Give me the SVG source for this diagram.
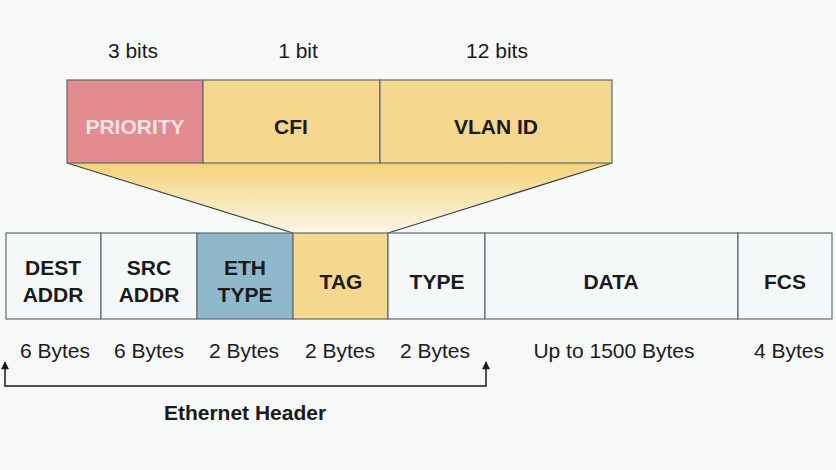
<svg xmlns="http://www.w3.org/2000/svg" width="836" height="470" viewBox="0 0 836 470">
<style>
.b{stroke:#5f6b6b;stroke-width:1.2}
.t{font-family:"Liberation Sans",Arial,sans-serif;font-weight:bold;font-size:21px;fill:#1a1a1a;text-anchor:middle}
.n{font-family:"Liberation Sans",Arial,sans-serif;font-size:21px;fill:#1a1a1a;text-anchor:middle}
</style>
<defs>
<linearGradient id="g" x1="0" y1="0" x2="0" y2="1">
<stop offset="0" stop-color="#f5d27a"/><stop offset="1" stop-color="#fbf6e6"/>
</linearGradient>
<marker id="a" viewBox="0 0 10 10" refX="9" refY="5" markerWidth="10" markerHeight="8" orient="auto-start-reverse" markerUnits="userSpaceOnUse"><path d="M0 0 L10 5 L0 10 Z" fill="#1a1a1a"/></marker>
</defs>
<rect width="836" height="470" fill="#f7f8f8"/>
<g id="funnel"><path d="M67 163 L612 163 L388 233 L293 233 Z" fill="url(#g)"/>
<path d="M67 163 L293 233 M612 163 L388 233" stroke="#3a4545" stroke-width="1.2" fill="none"/></g>
<g id="bits"><text class="n" x="133" y="58">3 bits</text><text class="n" x="298" y="58">1 bit</text><text class="n" x="497" y="58">12 bits</text></g>
<g id="priority"><rect class="b" x="67" y="80" width="136" height="83" fill="#e48b90"/><text class="t" x="135" y="134" style="fill:#f7e3e3">PRIORITY</text></g>
<g id="cfi"><rect class="b" x="203" y="80" width="177" height="83" fill="#f6d78e"/><text class="t" x="291" y="134">CFI</text></g>
<g id="vlan"><rect class="b" x="380" y="80" width="232" height="83" fill="#f6d78e"/><text class="t" x="496" y="134">VLAN ID</text></g>
<g id="dest"><rect class="b" x="6" y="233" width="95" height="86" fill="#f4f8f9"/><text class="t" x="53" y="275">DEST</text><text class="t" x="53" y="302">ADDR</text></g>
<g id="src"><rect class="b" x="101" y="233" width="96" height="86" fill="#f4f8f9"/><text class="t" x="149" y="275">SRC</text><text class="t" x="149" y="302">ADDR</text></g>
<g id="eth"><rect class="b" x="197" y="233" width="96" height="86" fill="#8fb8cb"/><text class="t" x="245" y="275">ETH</text><text class="t" x="245" y="302">TYPE</text></g>
<g id="tag"><rect class="b" x="293" y="233" width="95" height="86" fill="#f6d78e"/><text class="t" x="341" y="289">TAG</text></g>
<g id="type"><rect class="b" x="388" y="233" width="97" height="86" fill="#f4f8f9"/><text class="t" x="437" y="289">TYPE</text></g>
<g id="data"><rect class="b" x="485" y="233" width="253" height="86" fill="#f4f8f9"/><text class="t" x="611" y="289">DATA</text></g>
<g id="fcs"><rect class="b" x="738" y="233" width="94" height="86" fill="#f4f8f9"/><text class="t" x="785" y="289">FCS</text></g>
<g id="sizes"><text class="n" x="55" y="358">6 Bytes</text><text class="n" x="149" y="358">6 Bytes</text><text class="n" x="244" y="358">2 Bytes</text><text class="n" x="340" y="358">2 Bytes</text><text class="n" x="435" y="358">2 Bytes</text><text class="n" x="614" y="358">Up to 1500 Bytes</text><text class="n" x="789" y="358">4 Bytes</text></g>
<g id="connectors"><path d="M5 362 L5 386 L486 386 L486 362" fill="none" stroke="#1a1a1a" stroke-width="1.5" marker-start="url(#a)" marker-end="url(#a)"/></g>
<g id="header"><text class="t" x="245" y="420">Ethernet Header</text></g>
</svg>
